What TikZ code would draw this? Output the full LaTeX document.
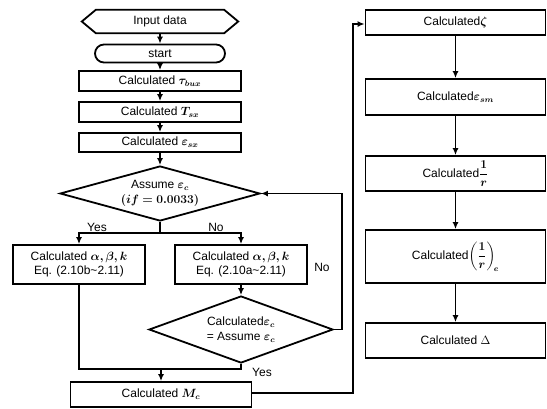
\documentclass[tikz,border=0pt]{standalone}
\usepackage{fontspec}
\setmainfont{Liberation Sans}
\usepackage{amsmath,bm}
\usetikzlibrary{shapes.geometric,arrows.meta}
\begin{document}
\begin{tikzpicture}[x=1pt,y=-1pt,
  every node/.style={font=\fontsize{12}{14}\selectfont},
  box/.style={draw,line width=1.8pt,inner sep=0pt,align=center},
  dia/.style={draw,line width=1.8pt,diamond,inner sep=0pt,align=center},
  conn/.style={line width=1.6pt,-{Latex[length=7pt,width=6pt]}},
  line/.style={line width=1.6pt},
  lbl/.style={inner sep=0pt}]
\useasboundingbox (0,0) rectangle (547,408);
% left column
\node[minimum width=156pt,minimum height=23pt,inner sep=0pt] (input) at (160,21.5) {Input data};
\draw[line width=1.8pt] ([xshift=14pt]input.north west) -- ([xshift=-14pt]input.north east) -- (input.east)
  -- ([xshift=-14pt]input.south east) -- ([xshift=14pt]input.south west) -- (input.west) -- cycle;
\node[box,rounded corners=9pt,minimum width=130pt,minimum height=18pt] (start) at (160,53.5) {start};
\node[box,minimum width=162pt,minimum height=20pt] (tau) at (160,81) {Calculated $\bm{\tau_{bux}}$};
\node[box,minimum width=162pt,minimum height=20pt] (tsx) at (160,112) {Calculated $\bm{T_{sx}}$};
\node[box,minimum width=162pt,minimum height=19pt] (esx) at (160,142.5) {Calculated $\bm{\varepsilon_{sx}}$};
\node[dia,aspect=3.6,minimum width=200pt,minimum height=55pt] (d1) at (160,193.5) {Assume $\bm{\varepsilon_c}$\\[1pt] $\bm{(if = 0.0033)}$};
\node[box,minimum width=132pt,minimum height=39pt] (yb) at (79,264.5) {Calculated $\bm{\alpha,\beta,k}$\\ Eq. (2.10b\textasciitilde 2.11)};
\node[box,minimum width=132pt,minimum height=39pt] (nb) at (241,264.5) {Calculated $\bm{\alpha,\beta,k}$\\ Eq. (2.10a\textasciitilde 2.11)};
\node[dia,aspect=2.75,minimum width=184pt,minimum height=67pt] (d2) at (241,329.5) {Calculated$\bm{\varepsilon_c}$\\[1pt] = Assume $\bm{\varepsilon_c}$};
\node[box,minimum width=181pt,minimum height=25pt] (mc) at (161,394.5) {Calculated $\bm{M_c}$};
% right column
\node[box,minimum width=180pt,minimum height=25pt] (zeta) at (455.5,22.5) {Calculated$\bm{\zeta}$};
\node[box,minimum width=180pt,minimum height=36pt] (esm) at (455.5,97) {Calculated$\bm{\varepsilon_{sm}}$};
\node[box,minimum width=180pt,minimum height=35pt] (invr) at (455.5,173.5) {Calculated$\bm{\dfrac{1}{r}}$};
\node[box,minimum width=180pt,minimum height=53pt] (invre) at (455.5,256.5) {Calculated$\bm{\left(\dfrac{1}{r}\right)_{\!e}}$};
\node[box,minimum width=180pt,minimum height=35pt] (delta) at (455.5,340.5) {Calculated $\Delta$};
% coordinates
\coordinate (split) at (160,233);
\coordinate (sl) at (79,233);
\coordinate (sr) at (241,233);
\coordinate (loopb) at (342,329.5);
\coordinate (loopt) at (342,193.5);
\coordinate (mergeL) at (79,369);
\coordinate (mergeR) at (241,369);
\coordinate (mergeM) at (161,369);
\coordinate (rb) at (353,393);
\coordinate (rt) at (353,24);
% connectors
\draw[conn] (input) -- (start);
\draw[conn] (start) -- (tau);
\draw[conn] (tau) -- (tsx);
\draw[conn] (tsx) -- (esx);
\draw[conn] (esx) -- (d1);
\draw[line] (d1.south) -- (split);
\draw[conn] (split) -- (sl) -- (yb.north);
\draw[conn] (split) -- (sr) -- (nb.north);
\draw[conn] (nb) -- (d2);
\draw[conn] (d2.east) -- (loopb) -- (loopt) -- (d1.east);
\draw[line] (yb.south) -- (mergeL) -- (mergeR) -- (d2.south);
\draw[conn] (mergeM) -- (mc.north);
\draw[conn] (mc.east |- rb) -- (rb) -- (rt) -- (zeta.west |- rt);
\draw[conn] (zeta) -- (esm);
\draw[conn] (esm) -- (invr);
\draw[conn] (invr) -- (invre);
\draw[conn] (invre) -- (delta);
% labels
\node[lbl] (yes1) at (97,227) {Yes};
\node[lbl] (no1) at (216,227) {No};
\node[lbl] (no2) at (322,267) {No};
\node[lbl] (yes2) at (262,372) {Yes};
\end{tikzpicture}
\end{document}
